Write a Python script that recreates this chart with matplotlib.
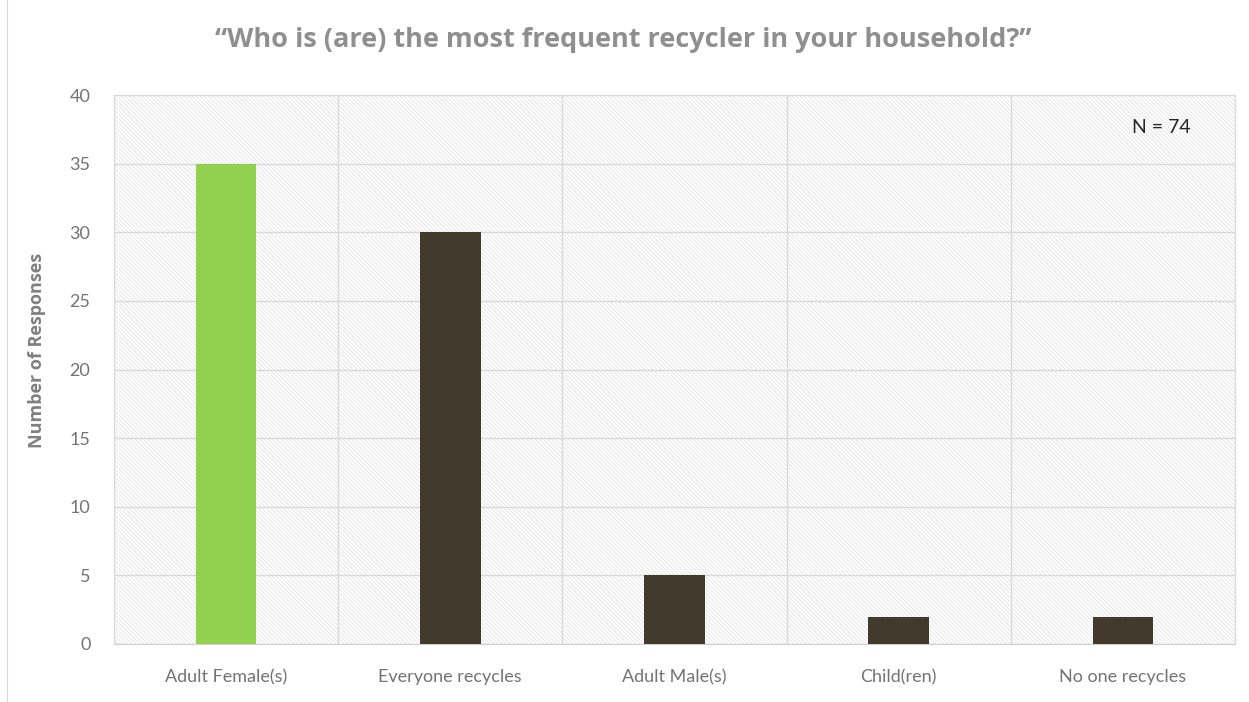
import matplotlib.pyplot as plt
import numpy as np

# chart data
categories = ['Adult Female(s)', 'Everyone recycles', 'Adult Male(s)', 'Child(ren)', 'No one recycles']
responses = [35, 30, 5, 2, 2]
bar_colors = ['#92D050', '#433A2E', '#433A2E', '#433A2E', '#433A2E']
y_ticks = [0, 5, 10, 15, 20, 25, 30, 35, 40]

plt.rcParams['hatch.color'] = '#e2e2e2'
plt.rcParams['hatch.linewidth'] = 0.6

fig = plt.figure(figsize=(12.49, 7.02), dpi=100)
ax = fig.add_axes([114 / 1249, 1 - 644 / 702, (1235 - 114) / 1249, (644 - 95) / 702])

# hatched background
ax.patch.set_facecolor('white')
ax.patch.set_hatch('\\' * 8)
ax.patch.set_edgecolor('#e2e2e2')
ax.patch.set_linewidth(0)

x = np.arange(len(categories))
ax.bar(x, responses, width=0.27, color=bar_colors, zorder=3)

ax.set_xlim(-0.5, len(categories) - 0.5)
ax.set_ylim(0, 40)
ax.set_yticks(y_ticks)
ax.set_xticks(x)
ax.set_xticklabels(categories)
ax.set_xticks(np.arange(len(categories) + 1) - 0.5, minor=True)

ax.grid(axis='y', color='#d9d9d9', linewidth=1, zorder=1)
ax.grid(axis='x', which='minor', color='#d9d9d9', linewidth=1, zorder=1)
ax.set_axisbelow(True)

for side in ['left', 'right', 'top']:
    ax.spines[side].set_color('#d9d9d9')
ax.spines['bottom'].set_color('#d0d0d0')
ax.tick_params(which='both', length=0)
ax.tick_params(axis='y', labelsize=13, labelcolor='#737373', pad=17)
ax.tick_params(axis='x', labelsize=13, labelcolor='#737373', pad=18)
for lbl in ax.get_xticklabels() + ax.get_yticklabels():
    lbl.set_family('Lato')

ax.set_ylabel('Number of Responses', fontsize=13, fontweight='bold', color='#7f7f7f',
              family='Open Sans')
ax.yaxis.set_label_coords((37 - 114) / 1121, (644 - 350) / 549)
ax.yaxis.label.set_va('center')

fig.text(623 / 1249, 1 - 40 / 702, '\u201cWho is (are) the most frequent recycler in your household?\u201d',
         ha='center', va='center', fontsize=19.5, fontweight='bold', color='#8f8f8f', family='Open Sans')

ax.text(0.934, 0.94, 'N = 74', transform=ax.transAxes, ha='center', va='center',
        fontsize=14, color='#262626', family='Lato')

# faint outer frame
fig.add_artist(plt.Line2D([7 / 1249, 7 / 1249], [0, 1], color='#d9d9d9', linewidth=0.8))

fig.savefig('out.png', dpi=100)
